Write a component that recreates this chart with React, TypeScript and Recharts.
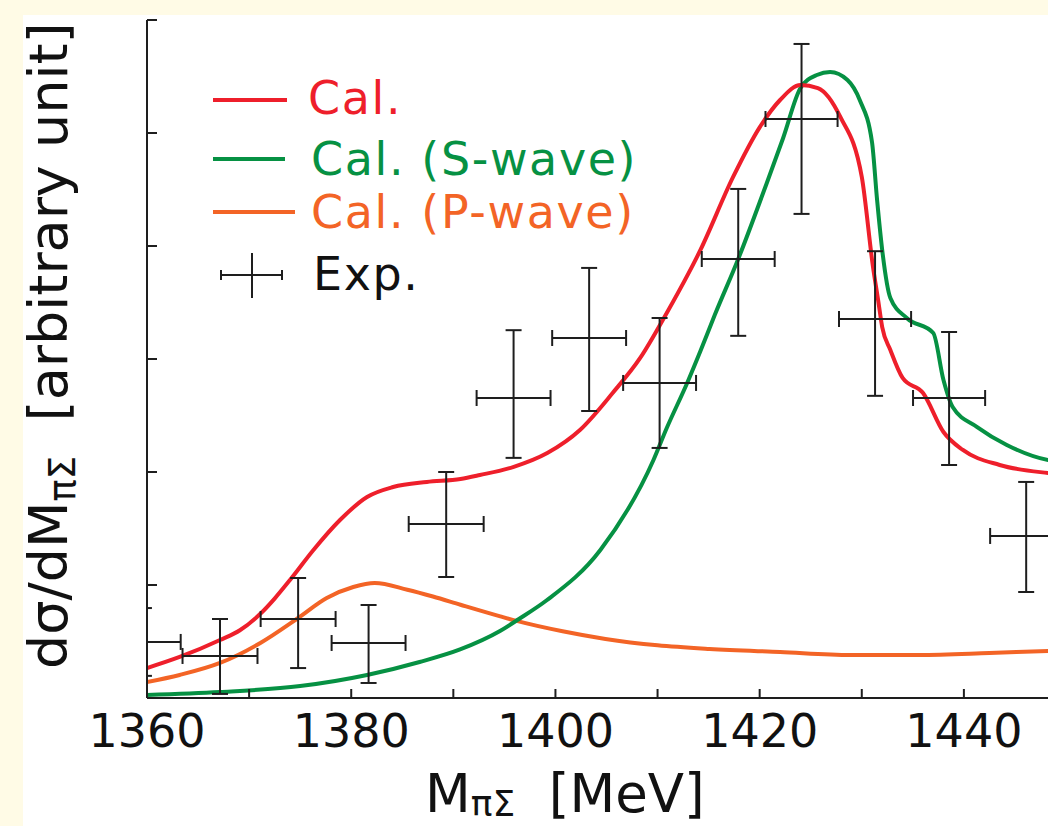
import React from 'react';
import { ComposedChart, Line, Scatter, ErrorBar, XAxis, YAxis, Legend } from 'recharts';

// ---- data ----
const xTicks = [1360, 1370, 1380, 1390, 1400, 1410, 1420, 1430, 1440, 1450];
const yTicks = [0, 1, 2, 3, 4, 5, 6];

// Cal. (total) [M, value]
const calTotal: [number, number][] = [
  [1360.0, 0.265], [1363.2, 0.363], [1367.15, 0.513], [1369.1, 0.6], [1371.1, 0.745],
  [1372.5, 0.88], [1374.0, 1.044], [1376.3, 1.31], [1378.9, 1.575], [1381.55, 1.779],
  [1384.1, 1.867], [1387.4, 1.912], [1390.7, 1.938], [1392.6, 1.973], [1395.85, 2.044],
  [1399.2, 2.168], [1402.4, 2.372], [1405.6, 2.699], [1408.3, 3.009], [1410.9, 3.407],
  [1414.2, 3.965], [1417.4, 4.611], [1420.0, 5.05], [1422.0, 5.292], [1424.0, 5.425],
  [1425.7, 5.398], [1427.9, 5.142], [1430.0, 4.611], [1431.1, 3.814], [1431.6, 3.522],
  [1432.0, 3.283], [1432.8, 3.08], [1434.0, 2.832], [1436.0, 2.699], [1438.0, 2.354],
  [1439.9, 2.195], [1443.5, 2.062], [1448.25, 1.991], [1450.0, 1.975],
];

// Cal. (S-wave)
const calSWave: [number, number][] = [
  [1360.0, 0.027], [1367.15, 0.053], [1375.0, 0.106], [1381.55, 0.204], [1386.7, 0.319],
  [1390.66, 0.43], [1394.57, 0.593], [1396.43, 0.699], [1399.18, 0.867], [1404.4, 1.31],
  [1409.6, 2.106], [1410.9, 2.389], [1412.9, 2.788], [1414.2, 3.071], [1415.6, 3.389],
  [1417.9, 3.885], [1420.7, 4.558], [1422.3, 4.956], [1424.0, 5.398], [1425.6, 5.513],
  [1426.9, 5.54], [1428.6, 5.469], [1429.8, 5.292], [1431.0, 4.92], [1431.5, 4.407],
  [1432.0, 3.965], [1432.8, 3.54], [1434.4, 3.363], [1437.0, 3.23], [1438.0, 2.814],
  [1438.9, 2.575], [1441.3, 2.398], [1444.2, 2.239], [1448.25, 2.106], [1450.0, 2.09],
];

// Cal. (P-wave)
const calPWave: [number, number][] = [
  [1360.0, 0.142], [1363.2, 0.204], [1367.15, 0.31], [1371.1, 0.487], [1374.8, 0.708],
  [1377.6, 0.885], [1380.2, 0.982], [1382.3, 1.018], [1385.5, 0.958], [1388.0, 0.898],
  [1390.7, 0.825], [1394.6, 0.722], [1396.2, 0.682], [1400.7, 0.59], [1404.9, 0.522],
  [1410.0, 0.466], [1415.1, 0.434], [1422.0, 0.407], [1428.9, 0.381], [1435.6, 0.381],
  [1442.5, 0.398], [1448.25, 0.416], [1450.0, 0.42],
];

// Exp.
const expM = [1359.7, 1367.15, 1374.8, 1381.7, 1389.3, 1395.9, 1403.3, 1410.2, 1417.9, 1424.1, 1431.3, 1438.55, 1446.1];
const expV = [0.496, 0.372, 0.699, 0.487, 1.54, 2.655, 3.186, 2.788, 3.885, 5.124, 3.354, 2.655, 1.434];
const expErrLow = [0.3, 0.336, 0.434, 0.354, 0.469, 0.53, 0.646, 0.575, 0.68, 0.84, 0.68, 0.593, 0.496];
const expErrHigh = [0.3, 0.327, 0.363, 0.336, 0.46, 0.6, 0.62, 0.575, 0.62, 0.664, 0.6, 0.584, 0.478];
const expMErr = [3.6, 3.67, 3.67, 3.62, 3.67, 3.62, 3.62, 3.57, 3.57, 3.53, 3.53, 3.53, 3.53];

// ---- styles ----
const RED = '#ee1f2b';
const GREEN = '#069143';
const ORANGE = '#f36426';
const INK = '#1e1e1e';
const FONT = '"DejaVu Sans", Verdana, sans-serif';

const toRows = (pts: [number, number][]) => pts.map(([m, v]) => ({ m, v }));
const expRows = expM.map((m, i) => ({
  m,
  v: expV[i],
  ye: [expErrLow[i], expErrHigh[i]],
  xe: expMErr[i],
}));

const BottomTick = (props: any) => {
  const { x, y, payload } = props;
  const v = payload.value;
  return (
    <g>
      <line x1={x} x2={x} y1={y} y2={y - 9} stroke={INK} strokeWidth={2} />
      {v % 20 === 0 && (
        <text x={x} y={y + 49} textAnchor="middle" fontSize={46} fontFamily={FONT} fill="#111">
          {v}
        </text>
      )}
    </g>
  );
};

const TopTick = (props: any) => {
  const { x, y } = props;
  return <line x1={x} x2={x} y1={y} y2={y + 9} stroke={INK} strokeWidth={2} />;
};

const LeftTick = (props: any) => {
  const { x, y } = props;
  return <line x1={x} x2={x + 10} y1={y} y2={y} stroke={INK} strokeWidth={2} />;
};

const YLabel = () => (
  <text
    transform="translate(67, 669) rotate(-90)"
    x={0}
    y={0}
    textAnchor="start"
    fontFamily={FONT}
    fontSize={54}
    fill="#111"
  >
    dσ/dM
    <tspan fontSize={37} dy={8}>πΣ</tspan>
    <tspan dy={-8}>{'\u00a0\u00a0[arbitrary unit]'}</tspan>
  </text>
);

const XLabel = () => (
  <text x={425} y={812} textAnchor="start" fontFamily={FONT} fontSize={53} fill="#111">
    M
    <tspan fontSize={36} dy={4}>πΣ</tspan>
    <tspan dy={-4}>{'\u00a0\u00a0[MeV]'}</tspan>
  </text>
);

const legendText = { fontSize: 46, fontFamily: FONT, letterSpacing: 1.6 };

const LegendBox = () => (
  <svg width={700} height={320} style={{ display: 'block' }}>
    <line x1={213} x2={287} y1={100} y2={100} stroke={RED} strokeWidth={4} />
    <text x={308} y={114} {...legendText} fill={RED}>Cal.</text>
    <line x1={213} x2={285} y1={159} y2={159} stroke={GREEN} strokeWidth={4} />
    <text x={311} y={175} {...legendText} fill={GREEN}>Cal. (S-wave)</text>
    <line x1={213} x2={295} y1={212} y2={212} stroke={ORANGE} strokeWidth={4} />
    <text x={311} y={228} {...legendText} fill={ORANGE}>Cal. (P-wave)</text>
    <g stroke={INK} strokeWidth={2}>
      <line x1={221} x2={282} y1={275} y2={275} />
      <line x1={221} x2={221} y1={270} y2={280} />
      <line x1={282} x2={282} y1={270} y2={280} />
      <line x1={252} x2={252} y1={253} y2={298} />
    </g>
    <text x={313} y={290} {...legendText} fill="#111">Exp.</text>
  </svg>
);

export default function App() {
  return (
    <div
      style={{
        position: 'fixed',
        left: 0,
        top: 0,
        width: 1048,
        height: 826,
        overflow: 'hidden',
        background: '#fffbe6',
      }}
    >
      <div style={{ position: 'absolute', left: 23, top: 15, width: 1100, height: 900, background: '#ffffff' }} />
      <svg width={0} height={0} style={{ position: 'absolute' }}>
        <defs>
          <clipPath id="plotClip">
            <rect x={147} y={20} width={919} height={678} />
          </clipPath>
        </defs>
      </svg>
      <div style={{ position: 'absolute', left: 0, top: 0 }}>
        <ComposedChart width={1100} height={830} margin={{ top: 20, right: 34, bottom: 32, left: 0 }}>
          <XAxis
            xAxisId="bottom"
            dataKey="m"
            type="number"
            domain={[1360, 1450]}
            ticks={xTicks}
            allowDataOverflow
            interval={0}
            height={100}
            tickSize={0}
            tickMargin={0}
            tickLine={false}
            tick={BottomTick}
            axisLine={{ stroke: INK, strokeWidth: 2 }}
            label={{ content: () => <XLabel /> }}
          />
          <XAxis
            xAxisId="top"
            orientation="top"
            dataKey="m"
            type="number"
            domain={[1360, 1450]}
            ticks={xTicks}
            allowDataOverflow
            interval={0}
            height={0}
            tickSize={0}
            tickMargin={0}
            tickLine={false}
            tick={TopTick}
            axisLine={{ stroke: INK, strokeWidth: 2 }}
          />
          <YAxis
            yAxisId="left"
            type="number"
            domain={[0, 6]}
            ticks={yTicks}
            allowDataOverflow
            interval={0}
            width={147}
            tickSize={0}
            tickMargin={0}
            tickLine={false}
            tick={LeftTick}
            axisLine={{ stroke: INK, strokeWidth: 2 }}
            label={{ content: () => <YLabel /> }}
          />
          <Legend
            layout="vertical"
            align="center"
            verticalAlign="middle"
            wrapperStyle={{ left: 0, top: 0, width: 700, height: 320 }}
            content={() => <LegendBox />}
          />
          <Line
            xAxisId="bottom"
            yAxisId="left"
            data={toRows(calPWave)}
            dataKey="v"
            type="monotone"
            stroke={ORANGE}
            strokeWidth={4}
            dot={false}
            isAnimationActive={false}
            name="Cal. (P-wave)"
          />
          <Line
            xAxisId="bottom"
            yAxisId="left"
            data={toRows(calSWave)}
            dataKey="v"
            type="monotone"
            stroke={GREEN}
            strokeWidth={4}
            dot={false}
            isAnimationActive={false}
            name="Cal. (S-wave)"
          />
          <Line
            xAxisId="bottom"
            yAxisId="left"
            data={toRows(calTotal)}
            dataKey="v"
            type="monotone"
            stroke={RED}
            strokeWidth={4}
            dot={false}
            isAnimationActive={false}
            name="Cal."
          />
          <Scatter
            xAxisId="bottom"
            yAxisId="left"
            data={expRows}
            dataKey="v"
            shape={() => <g />}
            isAnimationActive={false}
            name="Exp."
          >
            <ErrorBar dataKey="ye" direction="y" width={8} stroke={INK} strokeWidth={2} clipPath="url(#plotClip)" isAnimationActive={false} />
            <ErrorBar dataKey="xe" direction="x" width={8} stroke={INK} strokeWidth={2} clipPath="url(#plotClip)" isAnimationActive={false} />
          </Scatter>
        </ComposedChart>
      </div>
    </div>
  );
}
